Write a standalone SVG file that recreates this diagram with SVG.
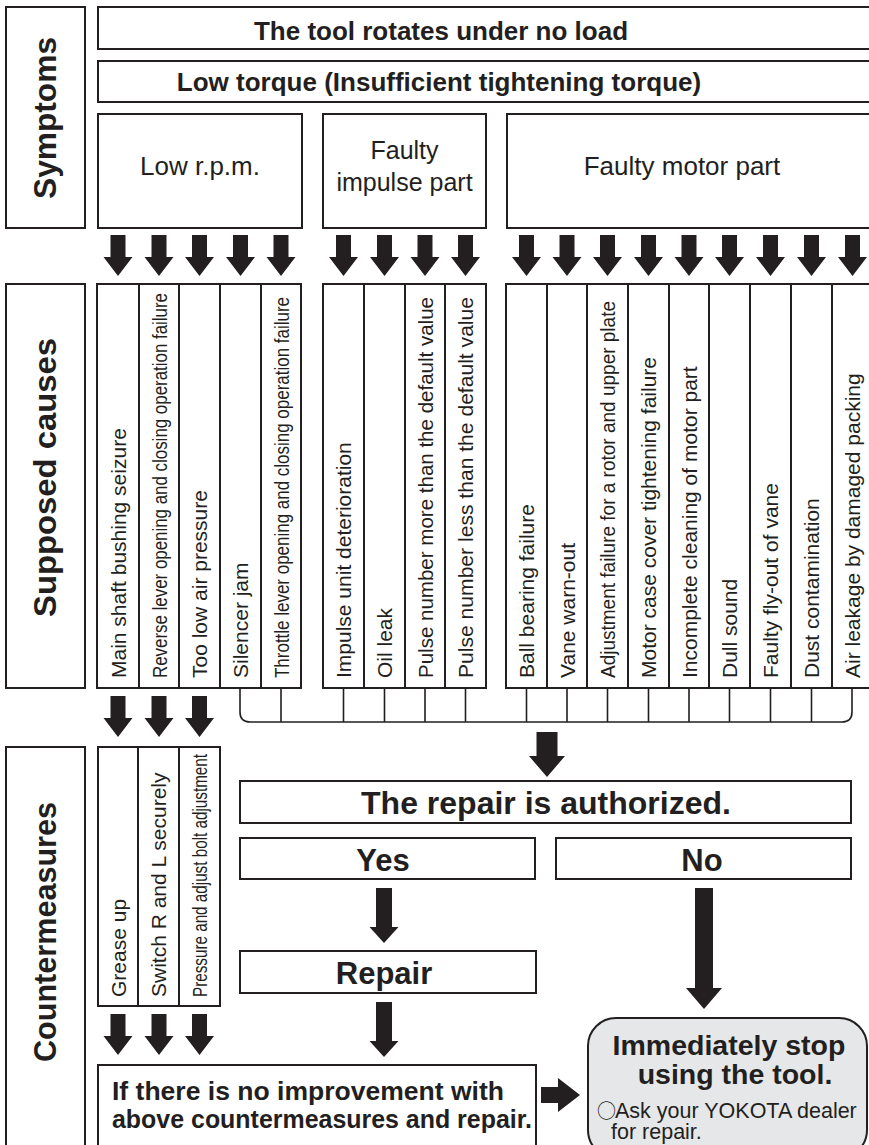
<svg xmlns="http://www.w3.org/2000/svg" xmlns:xlink="http://www.w3.org/1999/xlink" width="869" height="1145" viewBox="0 0 869 1145">
<style>
.box{fill:#fff;stroke:#231f20;stroke-width:2}
.ln{fill:none;stroke:#231f20;stroke-width:2}
.br{fill:none;stroke:#231f20;stroke-width:1.6}
.ar{fill:#231f20;stroke:none}
text{font-family:"Liberation Sans",Arial,sans-serif;fill:#231f20}
.hb{font-size:26px;font-weight:bold;text-anchor:middle}
.lab{font-size:32px;font-weight:bold;text-anchor:middle}
.sym{font-size:26px;text-anchor:middle}
.c{font-size:21px}
.big{font-size:32px;font-weight:bold;text-anchor:middle}
.yn{font-size:31px;font-weight:bold;text-anchor:middle}
.bt{font-size:25.5px;font-weight:bold}
.st{font-size:28.5px;font-weight:bold;text-anchor:middle}
.sm{font-size:21.5px}
.circ{font-family:"Noto Sans CJK JP","Noto Sans CJK SC",sans-serif;font-size:19px}
</style>
<defs>
<path id="a1" d="M-7.5,0 H7.5 V22 H14.5 L0,41 L-14.5,22 H-7.5 Z"/>
<path id="a2" d="M-8,0 H8 V39 H14.5 L0,55 L-14.5,39 H-8 Z"/>
<path id="a3" d="M-10.5,0 H10.5 V24 H18 L0,45 L-18,24 H-10.5 Z"/>
<path id="a4" d="M-9,0 H9 V100 H18 L0,121 L-18,100 H-9 Z"/>
</defs>
<rect width="869" height="1145" fill="#fff"/>

<g id="label-symptoms">
<rect class="box" x="6" y="7" width="79" height="221"/>
<text class="lab" transform="translate(56,118) rotate(-90)" textLength="162" lengthAdjust="spacingAndGlyphs">Symptoms</text>
</g>
<g id="label-causes">
<rect class="box" x="6" y="284" width="79" height="404"/>
<text class="lab" transform="translate(56,477.5) rotate(-90)" textLength="279" lengthAdjust="spacingAndGlyphs">Supposed causes</text>
</g>
<g id="label-countermeasures">
<rect class="box" x="6" y="747" width="79" height="420"/>
<text class="lab" transform="translate(56,932) rotate(-90)" textLength="260" lengthAdjust="spacingAndGlyphs">Countermeasures</text>
</g>

<g id="symptom-noload">
<rect class="box" x="98" y="7" width="790" height="42"/>
<text class="hb" x="441" y="40">The tool rotates under no load</text>
</g>
<g id="symptom-lowtorque">
<rect class="box" x="98" y="61" width="790" height="41"/>
<text class="hb" x="439" y="91">Low torque (Insufficient tightening torque)</text>
</g>
<g id="symptom-lowrpm">
<rect class="box" x="98" y="114" width="204" height="114"/>
<text class="sym" x="200" y="175">Low r.p.m.</text>
</g>
<g id="symptom-impulse">
<rect class="box" x="323" y="114" width="163" height="114"/>
<text class="sym" x="404.5" y="159" style="font-size:25px">Faulty</text>
<text class="sym" x="404.5" y="191" style="font-size:25px">impulse part</text>
</g>
<g id="symptom-motor">
<rect class="box" x="507" y="114" width="380" height="114"/>
<text class="sym" x="682" y="175">Faulty motor part</text>
</g>

<g id="causes-rpm">
<rect class="box" x="97" y="284" width="204" height="404"/>
<path class="ln" d="M139,284V688M179,284V688M220,284V688M261,284V688"/>
<text class="c" transform="translate(125.5,678) rotate(-90)">Main shaft bushing seizure</text>
<text class="c" transform="translate(166.5,678) rotate(-90)" textLength="385" lengthAdjust="spacingAndGlyphs">Reverse lever opening and closing operation failure</text>
<text class="c" transform="translate(207,678) rotate(-90)">Too low air pressure</text>
<text class="c" transform="translate(248,678) rotate(-90)">Silencer jam</text>
<text class="c" transform="translate(288.5,678) rotate(-90)" textLength="381" lengthAdjust="spacingAndGlyphs">Throttle lever opening and closing operation failure</text>
</g>
<g id="causes-impulse">
<rect class="box" x="323" y="284" width="163" height="404"/>
<path class="ln" d="M364,284V688M405,284V688M445,284V688"/>
<text class="c" transform="translate(351,678) rotate(-90)">Impulse unit deterioration</text>
<text class="c" transform="translate(392,678) rotate(-90)">Oil leak</text>
<text class="c" transform="translate(432.5,678) rotate(-90)" textLength="381" lengthAdjust="spacingAndGlyphs">Pulse number more than the default value</text>
<text class="c" transform="translate(473,678) rotate(-90)" textLength="381" lengthAdjust="spacingAndGlyphs">Pulse number less than the default value</text>
</g>
<g id="causes-motor">
<rect class="box" x="506" y="284" width="370" height="404"/>
<path class="ln" d="M547,284V688M587,284V688M628,284V688M669,284V688M709,284V688M750,284V688M791,284V688M832,284V688"/>
<text class="c" transform="translate(534,678) rotate(-90)">Ball bearing failure</text>
<text class="c" transform="translate(574.5,678) rotate(-90)">Vane warn-out</text>
<text class="c" transform="translate(615,678) rotate(-90)" textLength="377" lengthAdjust="spacingAndGlyphs">Adjustment failure for a rotor and upper plate</text>
<text class="c" transform="translate(656,678) rotate(-90)">Motor case cover tightening failure</text>
<text class="c" transform="translate(696.5,678) rotate(-90)">Incomplete cleaning of motor part</text>
<text class="c" transform="translate(737,678) rotate(-90)">Dull sound</text>
<text class="c" transform="translate(778,678) rotate(-90)">Faulty fly-out of vane</text>
<text class="c" transform="translate(819,678) rotate(-90)">Dust contamination</text>
<text class="c" transform="translate(860,678) rotate(-90)">Air leakage by damaged packing</text>
</g>

<g id="countermeasures">
<rect class="box" x="98" y="747" width="122" height="259"/>
<path class="ln" d="M138,747V1006M179,747V1006"/>
<text class="c" transform="translate(125.5,997) rotate(-90)">Grease up</text>
<text class="c" transform="translate(166,997) rotate(-90)">Switch R and L securely</text>
<text class="c" transform="translate(207,997) rotate(-90)" textLength="243" lengthAdjust="spacingAndGlyphs">Pressure and adjust bolt adjustment</text>
</g>

<g id="repair-authorized">
<rect class="box" x="240" y="781" width="611" height="42"/>
<text class="big" x="546" y="814">The repair is authorized.</text>
</g>
<g id="yes">
<rect class="box" x="240" y="838" width="295" height="41"/>
<text class="yn" x="383" y="871">Yes</text>
</g>
<g id="no">
<rect class="box" x="556" y="838" width="295" height="41"/>
<text class="yn" x="702" y="871">No</text>
</g>
<g id="repair">
<rect class="box" x="240" y="951" width="296" height="42"/>
<text class="yn" x="384" y="984">Repair</text>
</g>
<g id="no-improvement">
<rect class="box" x="98" y="1065" width="438" height="100"/>
<text class="bt" x="112" y="1100" textLength="392" lengthAdjust="spacingAndGlyphs">If there is no improvement with</text>
<text class="bt" x="112" y="1128" textLength="420" lengthAdjust="spacingAndGlyphs">above countermeasures and repair.</text>
</g>
<g id="stop">
<rect x="588" y="1018" width="279" height="140" rx="28" ry="28" fill="#e6e7e8" stroke="#231f20" stroke-width="2"/>
<text class="st" x="729" y="1055">Immediately stop</text>
<text class="st" x="735" y="1084">using the tool.</text>
<text class="sm" x="597" y="1118"><tspan class="circ">○</tspan><tspan x="615">Ask your YOKOTA dealer</tspan></text>
<text class="sm" x="611" y="1139">for repair.</text>
</g>

<g id="connectors">
<path class="br" d="M240,688V712Q240,722 250,722H842Q852,722 852,712V688M281,688V722M343.5,688V722M384.5,688V722M425,688V722M465.5,688V722M526.5,688V722M567,688V722M607.5,688V722M648.5,688V722M689,688V722M729.5,688V722M770.5,688V722M811.5,688V722"/>
<g class="ar">
<use xlink:href="#a1" x="118" y="235"/>
<use xlink:href="#a1" x="159" y="235"/>
<use xlink:href="#a1" x="199.5" y="235"/>
<use xlink:href="#a1" x="240.5" y="235"/>
<use xlink:href="#a1" x="281" y="235"/>
<use xlink:href="#a1" x="343.5" y="235"/>
<use xlink:href="#a1" x="384.5" y="235"/>
<use xlink:href="#a1" x="425" y="235"/>
<use xlink:href="#a1" x="465.5" y="235"/>
<use xlink:href="#a1" x="526.5" y="235"/>
<use xlink:href="#a1" x="567" y="235"/>
<use xlink:href="#a1" x="607.5" y="235"/>
<use xlink:href="#a1" x="648.5" y="235"/>
<use xlink:href="#a1" x="689" y="235"/>
<use xlink:href="#a1" x="729.5" y="235"/>
<use xlink:href="#a1" x="770.5" y="235"/>
<use xlink:href="#a1" x="811.5" y="235"/>
<use xlink:href="#a1" x="852.5" y="235"/>
<use xlink:href="#a1" x="118" y="696"/>
<use xlink:href="#a1" x="159" y="696"/>
<use xlink:href="#a1" x="199.5" y="696"/>
<use xlink:href="#a1" x="118" y="1014"/>
<use xlink:href="#a1" x="159" y="1014"/>
<use xlink:href="#a1" x="199.5" y="1014"/>
<use xlink:href="#a3" x="547" y="732"/>
<use xlink:href="#a2" x="384" y="888"/>
<use xlink:href="#a2" x="384" y="1002"/>
<use xlink:href="#a4" x="704" y="888"/>
<path d="M541,1087H558V1078L580,1095L558,1112V1103H541Z"/>
</g>
</g>
</svg>
